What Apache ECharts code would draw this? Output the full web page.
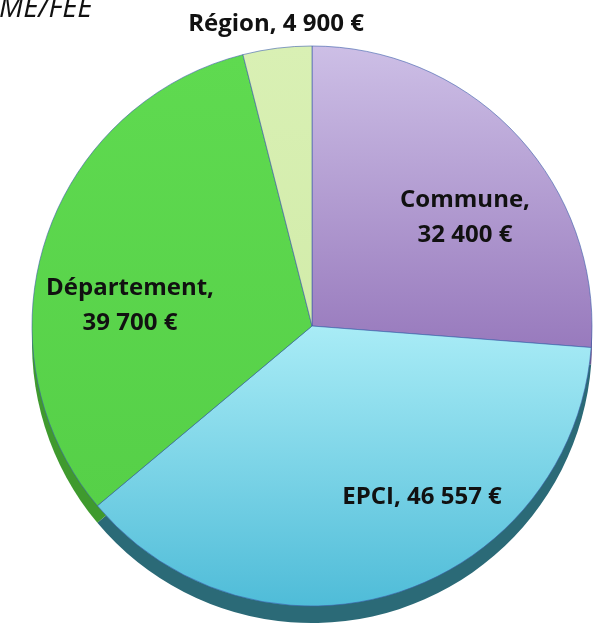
<!DOCTYPE html>
<html>
<head>
<meta charset="utf-8">
<script src="https://cdn.jsdelivr.net/npm/echarts@6/dist/echarts.min.js"></script>
<style>
  html, body { margin: 0; padding: 0; background: #ffffff; }
  #chart { width: 601px; height: 623px; }
</style>
</head>
<body>
<div id="chart"></div>
<script>
// Funding shares by level of government (euros)
const categories = ['Commune', 'EPCI', 'Département', 'Région'];
const amounts = [32400, 46557, 39700, 4900];
const currency = '€';

// Slice colours: gradient top, gradient bottom, side wall
const faceTop = ['#cdbfe6', '#a9ecf6', '#5fda50', '#d9f0b4'];
const faceBottom = ['#987abd', '#4fbcd8', '#56d048', '#d2ecaa'];
const sideColor = ['#6d5890', '#2b6a77', '#3f9a2e', '#9fbf78'];

// Label anchor points [x, y, amount on its own line]
const labelAt = [[465, 218, true], [422, 497, false], [130, 306, true], [276, 24, false]];

const cx = 312, cy = 326, R = 280, depth = 17;

function formatAmount(v) {
  return String(v).replace(/\B(?=(\d{3})+(?!\d))/g, ' ') + ' ' + currency;
}

const faceData = categories.map((name, i) => ({
  name: name,
  value: amounts[i],
  itemStyle: {
    color: {
      type: 'linear', x: 0, y: 0, x2: 0, y2: 1,
      colorStops: [
        { offset: 0, color: faceTop[i] },
        { offset: 1, color: faceBottom[i] }
      ]
    }
  }
}));

const sideData = categories.map((name, i) => ({
  name: name,
  value: amounts[i],
  itemStyle: { color: sideColor[i] }
}));

const chart = echarts.init(document.getElementById('chart'), null, { renderer: 'canvas' });

chart.setOption({
  animation: false,
  backgroundColor: '#ffffff',
  graphic: [{
    type: 'text',
    x: -1,
    y: -6,
    style: {
      text: 'ME/FEE',
      font: 'italic 29px "Open Sans"',
      fill: '#111111',
      textVerticalAlign: 'top'
    }
  }],
  series: [
    {
      // side wall of the disc, shifted down under the top face
      type: 'pie',
      silent: true,
      z: 1,
      center: [cx, cy + depth],
      radius: R,
      startAngle: 90,
      clockwise: true,
      label: { show: false },
      labelLine: { show: false },
      itemStyle: { borderWidth: 0 },
      emphasis: { disabled: true },
      data: sideData
    },
    {
      type: 'pie',
      z: 2,
      center: [cx, cy],
      radius: R,
      startAngle: 90,
      clockwise: true,
      avoidLabelOverlap: false,
      itemStyle: { borderColor: 'rgba(60,95,170,0.6)', borderWidth: 1 },
      emphasis: { disabled: true },
      label: {
        show: true,
        position: 'inside',
        fontFamily: 'Open Sans',
        fontWeight: 'bold',
        fontSize: 24,
        lineHeight: 35,
        color: '#111111',
        align: 'center',
        formatter: function (p) {
          const sep = labelAt[p.dataIndex][2] ? ',\n' : ', ';
          return p.name + sep + formatAmount(p.value);
        }
      },
      labelLine: { show: false },
      labelLayout: function (p) {
        const a = labelAt[p.dataIndex];
        return { x: a[0], y: a[1], align: 'center', verticalAlign: 'middle', hideOverlap: false };
      },
      data: faceData
    }
  ]
});
</script>
</body>
</html>
